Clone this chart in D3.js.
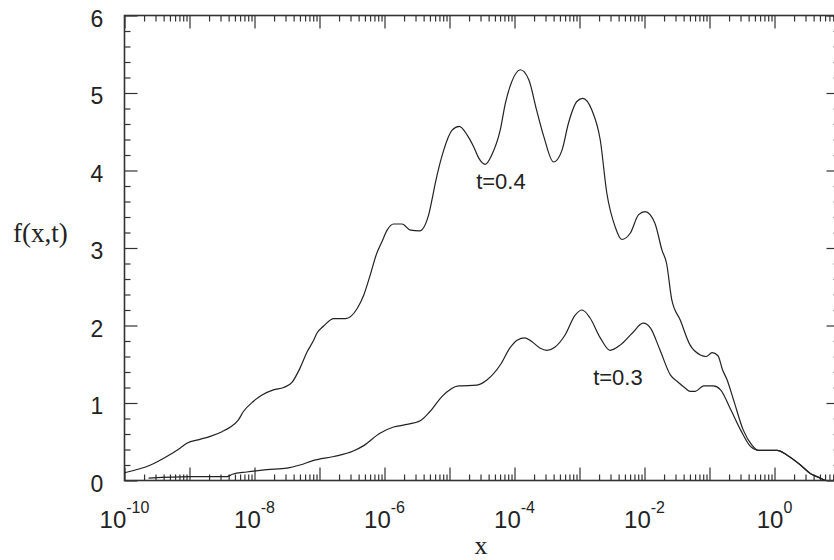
<!DOCTYPE html>
<html>
<head>
<meta charset="utf-8">
<script src="https://cdn.jsdelivr.net/npm/d3@7"></script>
<style>
  body { margin: 0; background: #fff; }
  text { fill: #222; }
</style>
</head>
<body>
<div id="vis_container"></div>
<script>
// t=0.4 curve: log10(x) and f(x,t)
var logX_t04 = [-10, -9.6, -9.35, -9.14, -9.04, -8.84, -8.68, -8.5, -8.37, -8.25, -8.17, -8.02, -7.89, -7.71, -7.55, -7.42, -7.3, -7.19, -7.09, -7.04, -6.94, -6.78, -6.6, -6.42, -6.32, -6.22, -6.12, -6.04, -5.96, -5.86, -5.73, -5.6, -5.46, -5.32, -5.27, -5.22, -5.09, -4.96, -4.85, -4.73, -4.63, -4.55, -4.45, -4.35, -4.22, -4.14, -4.04, -3.91, -3.78, -3.66, -3.55, -3.4, -3.27, -3.17, -3.04, -2.95, -2.81, -2.68, -2.58, -2.45, -2.35, -2.22, -2.09, -1.99, -1.84, -1.73, -1.66, -1.58, -1.45, -1.3, -1.14, -1.05, -0.96, -0.87, -0.8, -0.73, -0.63, -0.48, -0.35, -0.25, 0.04, 0.19, 0.4, 0.55, 0.68, 0.78];
var f_t04 = [0.1, 0.2, 0.31, 0.42, 0.48, 0.53, 0.57, 0.63, 0.69, 0.78, 0.89, 1.02, 1.1, 1.17, 1.2, 1.27, 1.45, 1.66, 1.81, 1.9, 1.99, 2.09, 2.09, 2.22, 2.39, 2.65, 2.93, 3.08, 3.23, 3.31, 3.31, 3.23, 3.22, 3.43, 3.62, 3.83, 4.26, 4.52, 4.57, 4.46, 4.31, 4.16, 4.08, 4.2, 4.52, 4.87, 5.15, 5.3, 5.17, 4.78, 4.44, 4.11, 4.26, 4.61, 4.89, 4.93, 4.78, 4.39, 3.71, 3.27, 3.11, 3.19, 3.43, 3.47, 3.32, 2.97, 2.8, 2.33, 2.07, 1.75, 1.62, 1.6, 1.65, 1.61, 1.43, 1.3, 1.04, 0.65, 0.46, 0.39, 0.39, 0.33, 0.2, 0.09, 0.04, 0.0];

// t=0.3 curve
var logX_t03 = [-9.63, -8.99, -8.42, -8.34, -8.12, -7.81, -7.5, -7.3, -7.09, -6.78, -6.48, -6.32, -6.07, -5.86, -5.68, -5.45, -5.3, -5.12, -4.86, -4.58, -4.42, -4.22, -4.07, -3.96, -3.84, -3.73, -3.61, -3.5, -3.38, -3.22, -3.07, -2.96, -2.84, -2.68, -2.53, -2.37, -2.19, -2.02, -1.91, -1.76, -1.6, -1.5, -1.37, -1.3, -1.22, -1.09, -0.94, -0.83, -0.67, -0.52, -0.37, -0.25, 0.04, 0.19, 0.4, 0.55, 0.68, 0.78];
var f_t03 = [0.03, 0.05, 0.05, 0.08, 0.11, 0.14, 0.16, 0.2, 0.26, 0.31, 0.38, 0.45, 0.61, 0.69, 0.72, 0.77, 0.89, 1.08, 1.22, 1.23, 1.3, 1.49, 1.71, 1.81, 1.84, 1.79, 1.71, 1.68, 1.72, 1.88, 2.13, 2.2, 2.1, 1.84, 1.68, 1.75, 1.9, 2.03, 1.97, 1.68, 1.36, 1.28, 1.19, 1.15, 1.15, 1.22, 1.22, 1.17, 0.91, 0.65, 0.44, 0.39, 0.39, 0.33, 0.2, 0.09, 0.04, 0.0];

var yTicks = [0, 1, 2, 3, 4, 5, 6];
var xLabelExps = [-10, -8, -6, -4, -2, 0];
var curveLabels = [
  {text: "t=0.4", lx: -4.59, f: 3.76},
  {text: "t=0.3", lx: -2.79, f: 1.23}
];

var chart = {};
chart.width = 834;
chart.height = 560;
chart.margin = {"top": 15.5, "left": 124.5, "right": -5.5, "bottom": 79.5};

chart.svg = d3.select("#vis_container").append("svg")
  .attr("width", chart.width)
  .attr("height", chart.height)
  .style("background-color", "#FFFFFF");

chart.xScale = d3.scaleLog()
  .domain([1e-10, 1e1])
  .range([chart.margin.left, chart.width - chart.margin.right]);

chart.yScale = d3.scaleLinear()
  .domain([0, 6])
  .range([chart.height - chart.margin.bottom, chart.margin.top]);

var x0 = chart.margin.left, x1 = chart.width - chart.margin.right;
var y0 = chart.height - chart.margin.bottom, y1 = chart.margin.top;

// log ticks: decades long, 2..9 short
var majorX = [], minorX = [];
for (var e = -10; e <= 1; e++) {
  majorX.push(Math.pow(10, e));
  if (e < 1) for (var m = 2; m <= 9; m++) minorX.push(m * Math.pow(10, e));
}
var majorY = yTicks;
var minorY = d3.range(0, 6.001, 0.2).filter(function(v) { return Math.abs(v - Math.round(v)) > 1e-6; });

function drawAxis(gen, vals, size, tr) {
  var g = chart.svg.append("g")
    .attr("transform", tr)
    .call(gen.tickValues(vals).tickSize(size).tickFormat(""));
  g.select(".domain").remove();
  g.selectAll("line").attr("stroke", "#333").attr("stroke-width", 1.2);
  return g;
}

drawAxis(d3.axisBottom(chart.xScale), majorX, -13, "translate(0," + y0 + ")");
drawAxis(d3.axisBottom(chart.xScale), minorX, -6, "translate(0," + y0 + ")");
drawAxis(d3.axisTop(chart.xScale), majorX, -13, "translate(0," + y1 + ")");
drawAxis(d3.axisTop(chart.xScale), minorX, -6, "translate(0," + y1 + ")");
drawAxis(d3.axisLeft(chart.yScale), majorY, -13, "translate(" + x0 + ",0)");
drawAxis(d3.axisLeft(chart.yScale), minorY, -6, "translate(" + x0 + ",0)");
drawAxis(d3.axisRight(chart.yScale), majorY, -13, "translate(" + x1 + ",0)");
drawAxis(d3.axisRight(chart.yScale), minorY, -6, "translate(" + x1 + ",0)");

// frame
chart.svg.append("rect")
  .attr("x", x0).attr("y", y1)
  .attr("width", x1 - x0).attr("height", y0 - y1)
  .attr("fill", "none")
  .attr("stroke", "#333")
  .attr("stroke-width", 1.6);

// y tick labels
chart.svg.selectAll(".ylab")
  .data(yTicks)
  .enter().append("text")
  .attr("class", "ylab")
  .attr("x", 97)
  .attr("y", function(d) { return chart.yScale(d) + 11; })
  .attr("text-anchor", "middle")
  .style("font-family", "'Liberation Sans', Arial, sans-serif")
  .style("font-size", "23px")
  .text(function(d) { return d; });

// x tick labels 10^n
var xl = chart.svg.selectAll(".xlab")
  .data(xLabelExps)
  .enter().append("text")
  .attr("class", "xlab")
  .attr("x", function(d) { return chart.xScale(Math.pow(10, d)); })
  .attr("y", 528)
  .attr("text-anchor", "middle")
  .style("font-family", "'Liberation Sans', Arial, sans-serif")
  .style("font-size", "24px");
xl.append("tspan").text("10");
xl.append("tspan")
  .attr("dy", -15)
  .style("font-size", "16px")
  .text(function(d) { return d; });

// axis titles
chart.svg.append("text")
  .attr("x", 13).attr("y", 242)
  .style("font-family", "'Liberation Serif', 'Times New Roman', serif")
  .style("font-size", "27px")
  .text("f(x,t)");

chart.svg.append("text")
  .attr("x", 481).attr("y", 554)
  .attr("text-anchor", "middle")
  .style("font-family", "'Liberation Serif', 'Times New Roman', serif")
  .style("font-size", "26px")
  .text("x");

// curves
var line = d3.line()
  .curve(d3.curveMonotoneX)
  .x(function(d) { return chart.xScale(Math.pow(10, d[0])); })
  .y(function(d) { return chart.yScale(d[1]); });

[[logX_t04, f_t04], [logX_t03, f_t03]].forEach(function(s) {
  chart.svg.append("path")
    .datum(d3.zip(s[0], s[1]))
    .attr("d", line)
    .attr("fill", "none")
    .attr("stroke", "#222")
    .attr("stroke-width", 1.2);
});

chart.svg.selectAll(".clab")
  .data(curveLabels)
  .enter().append("text")
  .attr("class", "clab")
  .attr("x", function(d) { return chart.xScale(Math.pow(10, d.lx)); })
  .attr("y", function(d) { return chart.yScale(d.f); })
  .style("font-family", "'Liberation Sans', Arial, sans-serif")
  .style("font-size", "22px")
  .text(function(d) { return d.text; });
</script>
</body>
</html>
